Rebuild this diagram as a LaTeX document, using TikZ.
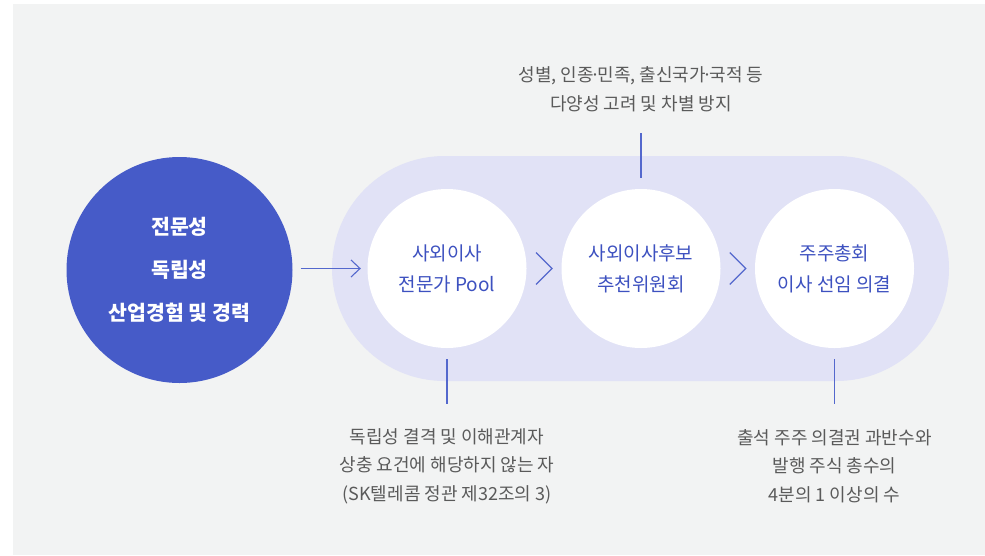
\documentclass[tikz,border=0pt]{standalone}
\usepackage{fontspec}
\setmainfont{Noto Sans CJK KR}
\usetikzlibrary{arrows.meta}
\definecolor{bggray}{HTML}{F2F3F3}
\definecolor{bandblue}{HTML}{E1E2F6}
\definecolor{deepblue}{HTML}{465BC8}
\definecolor{lineblue}{HTML}{5468CD}
\definecolor{textblue}{HTML}{3D51C0}
\definecolor{notegray}{HTML}{5A5A5A}
\newcommand{\mdot}{\kern-0.18em·\kern-0.18em}
\tikzset{
  stage/.style={circle, fill=white, minimum size=159pt, inner sep=0pt,
    text=textblue, align=center, font=\fontsize{19}{31}\selectfont},
  note/.style={text=notegray, align=center, font=\fontsize{18}{28.5}\selectfont},
  link/.style={lineblue, line width=1.1pt},
}
\begin{document}
\begin{tikzpicture}[x=1pt,y=-1pt]
    \useasboundingbox (0,0) rectangle (985,555);
    \fill[bggray] (13,4) rectangle (985,555);
    % band behind the three stages
    \node (band) at (640.5,268.5) [fill=bandblue, minimum width=617pt,
      minimum height=225pt, rounded corners=112.5pt] {};
    \node (core) at (179.5,270) [circle, fill=deepblue, minimum size=226pt,
      text=white, align=center, font=\bfseries\fontsize{20.5}{43}\selectfont]
      {전문성\\독립성\\산업경험 및 경력};
    \node (pool) at (447,268.5) [stage] {사외이사\\전문가 Pool};
    \node (cmte) at (641,268.5) [stage] {사외이사후보\\추천위원회};
    \node (agm) at (834.5,268.5) [stage] {주주총회\\이사 선임 의결};
    \draw[link, -{Straight Barb[length=9pt, width=17pt]}]
      ([xshift=8pt]pool.west -| core.east) -- ([xshift=-6.5pt]pool.west);
    \foreach \a/\b in {pool/cmte, cmte/agm}
    {
    \path (\a.east) -- (\b.west) coordinate[midway] (mid);
    \draw[link] (mid) ++(-8,-16) -- ++(16,16) -- ++(-16,16);
    }
    % notes
    \node (ntop) at (641,89) [note] {성별, 인종\mdot 민족, 출신국가\mdot 국적 등\\다양성 고려 및 차별 방지};
    \node (npool) at (447,466) [note] {독립성 결격 및 이해관계자\\상충 요건에 해당하지 않는 자\\(SK텔레콤 정관 제32조의 3)};
    \node (nagm) at (834.5,466) [note] {출석 주주 의결권 과반수와\\발행 주식 총수의\\4분의 1 이상의 수};
    \draw[link] ([yshift=11pt]cmte.north) -- ([yshift=56pt]cmte.north);
    \draw[link] ([yshift=-11pt]pool.south) -- ([yshift=-56pt]pool.south);
    \draw[link] ([yshift=-11pt]agm.south) -- ([yshift=-56pt]agm.south);
\end{tikzpicture}
\end{document}
